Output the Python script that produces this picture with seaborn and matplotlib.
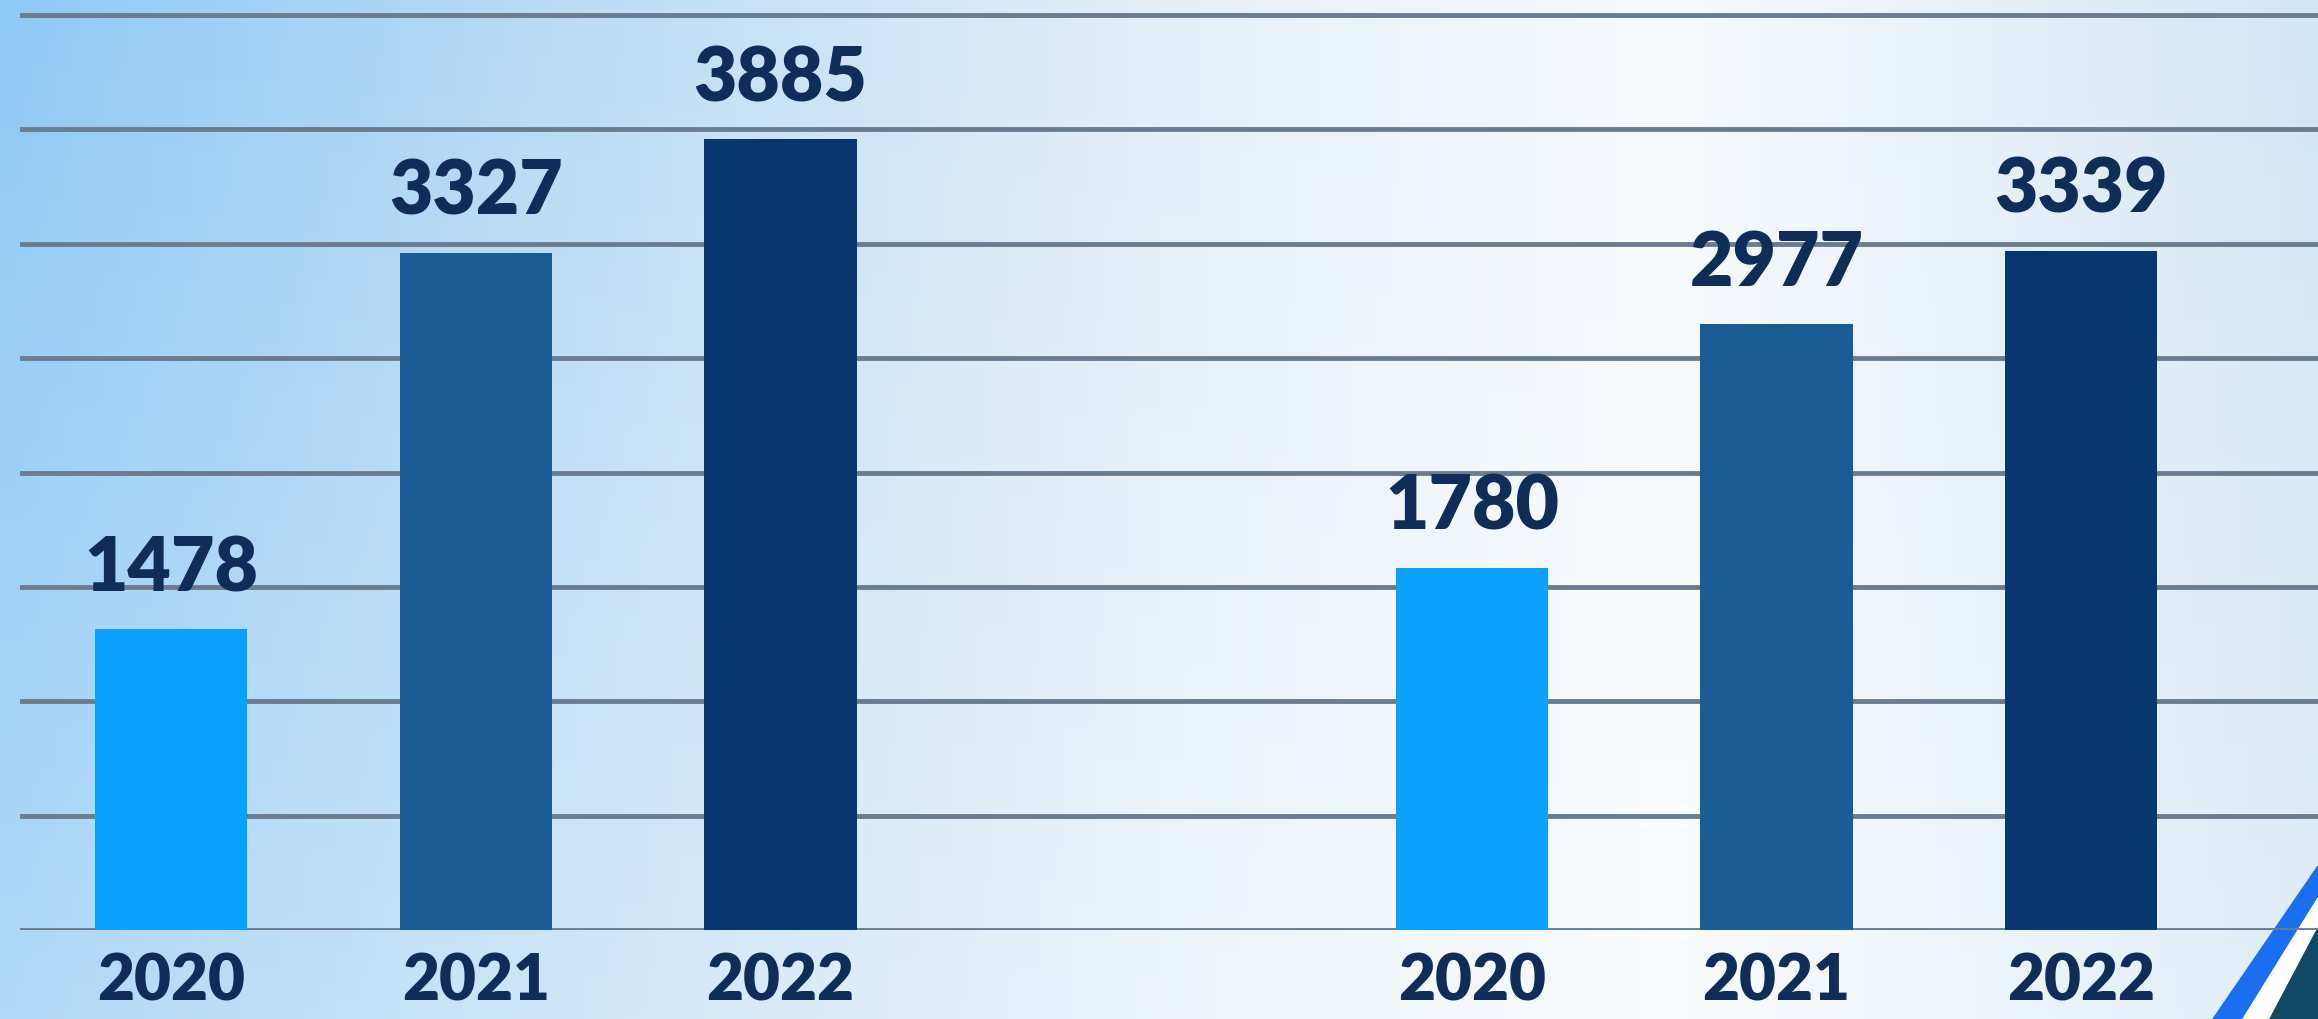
import numpy as np
import pandas as pd
import matplotlib.pyplot as plt
import seaborn as sns
from matplotlib.colors import LinearSegmentedColormap
from matplotlib.patches import Polygon

# Données
years = ["2020", "2021", "2022"]
left_values = [1478, 3327, 3885]
right_values = [1780, 2977, 3339]
bar_colors = ["#0aa0fb", "#1a5d96", "#07376e"]
text_color = "#0f2d58"

sns.set_style("white")
plt.rcParams['font.family'] = ['Lato', 'DejaVu Sans']

W, H = 2318, 1019
fig = plt.figure(figsize=(W / 100, H / 100), dpi=100)

# Fond en dégradé
bg = fig.add_axes([0, 0, 1, 1])
bg.set_zorder(0)
bg.set_axis_off()
cmap = LinearSegmentedColormap.from_list("bg", [
    (0.0, "#8fc9f5"), (0.25, "#bcdcf5"), (0.5, "#e4eff9"),
    (0.72, "#f7fafd"), (1.0, "#d3e6f6")])
grad = np.tile(np.linspace(0, 1, 512), (2, 1))
bg.imshow(grad, cmap=cmap, aspect='auto', extent=[0, 1, 0, 1])
# éclaircir un peu vers le bas
fade = np.ones((256, 2, 4))
fade[:, :, 3] = np.linspace(0, 0.3, 256)[:, None]
bg.imshow(fade, aspect='auto', extent=[0, 1, 0, 1])

# bandeau décoratif en bas à droite
def px(x, y):
    return (x / W, 1 - y / H)

bg.add_patch(Polygon([px(2213, 1019), px(2318, 866), px(2318, 898), px(2243, 1019)], color="#1a6ff0"))
bg.add_patch(Polygon([px(2243, 1019), px(2318, 898), px(2318, 928), px(2270, 1019)], color="#ffffff"))
bg.add_patch(Polygon([px(2270, 1019), px(2318, 928), px(2318, 1019)], color="#0e4a66"))
bg.set_xlim(0, 1)
bg.set_ylim(0, 1)

# Échelle verticale commune
ymax = 930 / 0.2035

# Lignes horizontales
gax = fig.add_axes([20 / W, 89 / H, 1 - 20 / W, 930 / H])
gax.set_zorder(1)
gax.patch.set_alpha(0)
gax.set_ylim(0, ymax)
for v in np.arange(0, ymax, 562):
    gax.axhline(v, color="#6a7d90", lw=3.5)
gax.set_axis_off()


def draw_group(rect, values):
    ax = fig.add_axes(rect)
    ax.set_zorder(2)
    ax.patch.set_alpha(0)
    df = pd.DataFrame({"year": years, "value": values})
    sns.barplot(data=df, x="year", y="value", hue="year",
                palette=dict(zip(years, bar_colors)), width=0.5,
                saturation=1, linewidth=0, legend=False, ax=ax)
    ax.set_ylim(0, ymax)
    ax.set_xlim(-0.5, 2.5)
    for c in ax.containers:
        ax.bar_label(c, padding=18, fontsize=54, fontweight='heavy', color=text_color)
    ax.set_xlabel('')
    ax.set_ylabel('')
    ax.set_yticks([])
    ax.tick_params(axis='x', length=0, pad=16, labelsize=46, labelcolor=text_color)
    for lab in ax.get_xticklabels():
        lab.set_fontweight('heavy')
    sns.despine(ax=ax, left=True, bottom=True)
    return ax


draw_group([18.5 / W, 89 / H, 914.5 / W, 930 / H], left_values)
draw_group([1320 / W, 89 / H, 913 / W, 930 / H], right_values)

fig.savefig("out.png", dpi=100)
